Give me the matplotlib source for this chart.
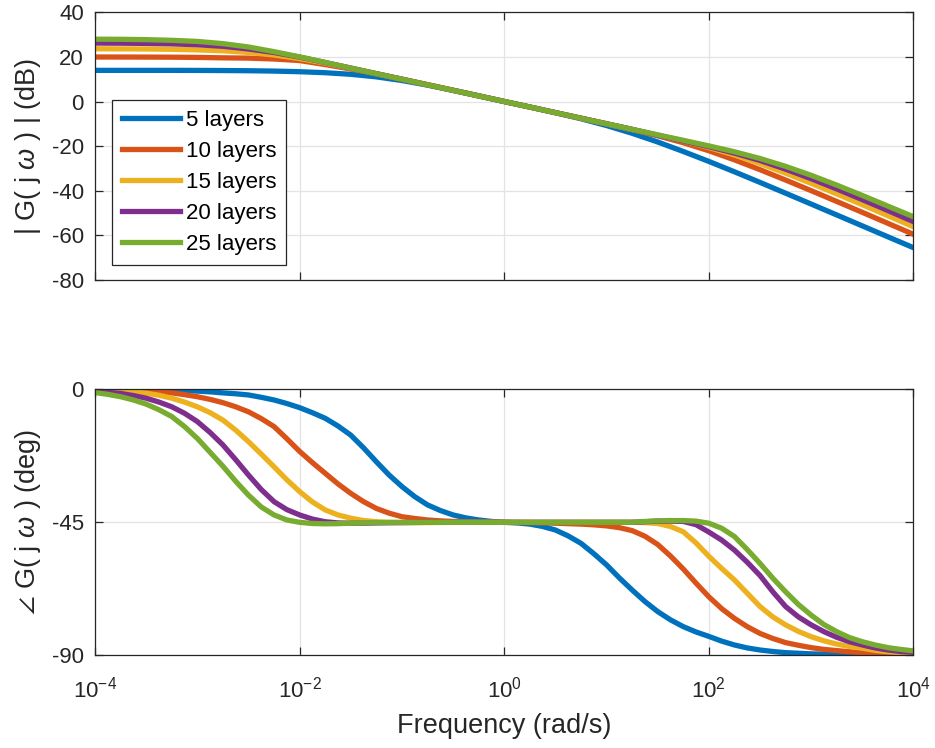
import numpy as np
import matplotlib
matplotlib.use('Agg')
import matplotlib.pyplot as plt

plt.rcParams['font.family'] = ['Liberation Sans', 'DejaVu Sans']
plt.rcParams['mathtext.fontset'] = 'custom'
plt.rcParams['mathtext.rm'] = 'Liberation Sans'
plt.rcParams['mathtext.it'] = 'Liberation Sans:italic'
plt.rcParams['axes.unicode_minus'] = False

labels = ['5 layers', '10 layers', '15 layers', '20 layers', '25 layers']
colors = ['#0072BD', '#D95319', '#EDB120', '#7E2F8E', '#77AC30']

# magnitude: read at quarter decades (log10 of rad/s)
log_w_mag = [-4, -3.75, -3.5, -3.25, -3, -2.75, -2.5, -2.25, -2, -1.75, -1.5, -1.25, -1,
             -0.75, -0.5, -0.25, 0, 0.25, 0.5, 0.75, 1, 1.25, 1.5, 1.75, 2, 2.25, 2.5,
             2.75, 3, 3.25, 3.5, 3.75, 4]

mag5 = [14.0, 14.0, 14.0, 14.0, 13.97, 13.92, 13.83, 13.67, 13.39, 12.94, 12.22, 11.07, 9.43,
        7.37, 5.04, 2.55, 0, -2.48, -5.03, -7.75, -10.80, -14.29, -18.2, -22.46, -26.93,
        -31.59, -36.36, -41.21, -46.09, -50.99, -55.9, -60.81, -65.7]
mag10 = [20.0, 19.98, 19.96, 19.91, 19.81, 19.62, 19.5, 19.1, 18.4, 16.6, 14.6, 12.42, 10.06,
         7.59, 5.08, 2.55, 0, -2.49, -4.98, -7.49, -10.03, -12.62, -15.40, -18.52, -22.14,
         -26.22, -30.64, -35.29, -40.07, -44.92, -49.82, -54.75, -59.7]
mag15 = [23.7, 23.65, 23.6, 23.45, 23.2, 22.8, 22.05, 20.9, 19.3, 17.25, 14.95, 12.5, 10.0,
         7.5, 5.0, 2.5, 0, -2.52, -5.04, -7.55, -10.07, -12.59, -15.12, -17.73, -20.66,
         -24.05, -27.91, -32.2, -36.77, -41.52, -46.38, -51.32, -56.3]
mag20 = [26.25, 26.2, 26.1, 25.9, 25.5, 24.8, 23.6, 22.0, 19.95, 17.53, 15.03, 12.51, 10.0,
         7.5, 5.0, 2.5, 0, -2.5, -5.0, -7.5, -10.0, -12.5, -15.2, -17.7, -20.3,
         -23.2, -26.5, -30.4, -34.7, -39.3, -44.1, -49.0, -54.0]
mag25 = [28.0, 27.95, 27.8, 27.5, 27.0, 26.0, 24.5, 22.4, 20.05, 17.54, 15.01, 12.5, 10.0,
         7.5, 5.0, 2.5, 0, -2.5, -5.0, -7.5, -10.0, -12.5, -14.99, -17.46, -19.95,
         -22.59, -25.61, -29.15, -33.17, -37.57, -42.22, -47.02, -51.8]

# phase: read at eighth decades
log_w_ph = [-4, -3.875, -3.75, -3.625, -3.5, -3.375, -3.25, -3.125,
            -3, -2.875, -2.75, -2.625, -2.5, -2.375, -2.25, -2.125,
            -2, -1.875, -1.75, -1.625, -1.5, -1.375, -1.25, -1.125,
            -1, -0.875, -0.75, -0.625, -0.5, -0.375, -0.25, -0.125,
            0, 0.125, 0.25, 0.375, 0.5, 0.625, 0.75, 0.875,
            1, 1.125, 1.25, 1.375, 1.5, 1.625, 1.75, 1.875,
            2, 2.125, 2.25, 2.375, 2.5, 2.625, 2.75, 2.875,
            3, 3.125, 3.25, 3.375, 3.5, 3.625, 3.75, 3.875,
            4]

ph5 = [0, -0.05, -0.1, -0.15, -0.2, -0.27, -0.35, -0.45,
       -0.6, -0.85, -1.2, -1.5, -1.9, -2.7, -3.6, -4.8,
       -6.2, -7.9, -9.8, -12.4, -15.5, -19.8, -24.5, -29.0,
       -32.9, -36.3, -39.1, -41.0, -42.5, -43.5, -44.2, -44.7,
       -45, -45.2, -45.6, -46.4, -47.6, -49.6, -52.1, -55.6,
       -59.4, -63.8, -67.9, -71.8, -75.2, -78.0, -80.3, -82.1,
       -83.6, -85.2, -86.5, -87.5, -88.2, -88.7, -89.1, -89.3,
       -89.5, -89.6, -89.7, -89.75, -89.8, -89.85, -89.9, -89.95,
       -90]
ph10 = [0, -0.1, -0.2, -0.33, -0.5, -0.8, -1.2, -1.8,
        -2.5, -3.4, -4.5, -5.9, -7.6, -9.9, -12.6, -16.7,
        -21.0, -24.8, -28.4, -32.0, -35.2, -38.0, -40.3, -41.9,
        -43.1, -43.7, -44.2, -44.5, -44.7, -44.8, -44.9, -44.95,
        -45, -45.05, -45.1, -45.2, -45.3, -45.45, -45.6, -45.85,
        -46.2, -46.8, -47.8, -49.7, -52.5, -56.4, -60.8, -65.6,
        -70.2, -74.2, -77.5, -80.3, -82.6, -84.3, -85.7, -86.6,
        -87.4, -88.0, -88.4, -88.8, -89.1, -89.3, -89.5, -89.65,
        -89.8]
ph15 = [-0.2, -0.33, -0.5, -0.85, -1.3, -2.0, -3.0, -4.3,
        -5.9, -7.9, -10.4, -13.8, -17.7, -21.9, -26.2, -30.6,
        -34.6, -38.1, -40.8, -42.5, -43.6, -44.4, -44.8, -45.0,
        -45.1, -45.1, -45.1, -45.05, -45.0, -45.0, -45.0, -45.0,
        -45, -45, -45, -45, -45, -45, -45, -45,
        -45.0, -45.0, -45.0, -45.1, -45.4, -46.4, -48.2, -52.0,
        -56.5, -60.6, -64.5, -69.0, -73.5, -77.0, -79.7, -81.9,
        -83.7, -85.1, -86.2, -87.0, -87.6, -88.3, -88.8, -89.1,
        -89.3]
ph20 = [-0.6, -1.0, -1.4, -2.1, -3.0, -4.3, -5.9, -8.1,
        -10.9, -14.6, -18.8, -23.8, -29.0, -33.9, -38.0, -40.7,
        -42.5, -43.9, -44.8, -45.2, -45.3, -45.3, -45.2, -45.15,
        -45.1, -45.05, -45.0, -45.0, -45.0, -45.0, -45.0, -45.0,
        -45, -45, -45, -45, -45, -45, -45, -45,
        -45.0, -45.0, -45.0, -44.8, -44.6, -44.6, -44.7, -45.8,
        -48.3, -51.0, -54.4, -58.5, -63.0, -68.5, -73.5, -77.0,
        -79.7, -82.0, -83.9, -85.4, -86.5, -87.5, -88.2, -88.7,
        -89.0]
ph25 = [-1.1, -1.7, -2.5, -3.6, -5.0, -6.9, -9.2, -12.6,
        -16.6, -21.3, -26.0, -31.1, -35.8, -39.8, -42.5, -44.2,
        -45.0, -45.4, -45.5, -45.45, -45.3, -45.2, -45.1, -45.05,
        -45.0, -45.0, -45.0, -45.0, -45.0, -45.0, -45.0, -45.0,
        -45, -45, -45, -45, -45, -45, -45, -45,
        -45.0, -45.0, -45.0, -44.7, -44.5, -44.4, -44.4, -44.6,
        -45.3, -47.0, -49.8, -54.2, -58.9, -63.9, -68.5, -72.8,
        -76.4, -79.6, -82.0, -84.0, -85.4, -86.5, -87.4, -88.0,
        -88.5]

mags = [mag5, mag10, mag15, mag20, mag25]
phases = [ph5, ph10, ph15, ph20, ph25]
w_mag = 10.0 ** np.array(log_w_mag)
w_ph = 10.0 ** np.array(log_w_ph)

fig = plt.figure(figsize=(9.35, 7.48), dpi=100)
ax1 = fig.add_axes([0.1016, 0.6263, 0.8754, 0.357])
ax2 = fig.add_axes([0.1016, 0.1239, 0.8754, 0.3556])

for m, p, c, lab in zip(mags, phases, colors, labels):
    ax1.semilogx(w_mag, m, color=c, lw=3.8, label=lab)
    ax2.semilogx(w_ph, p, color=c, lw=3.8)

xt = [1e-4, 1e-2, 1e0, 1e2, 1e4]
for ax in (ax1, ax2):
    ax.set_xlim(1e-4, 1e4)
    ax.set_xticks(xt)
    ax.minorticks_off()
    ax.grid(True, color='#e3e3e3', lw=0.9)
    ax.set_axisbelow(True)
    ax.tick_params(direction='in', top=True, right=True, length=6, width=0.9,
                   colors='#262626', labelsize=16)
    ax.tick_params(axis='y', pad=8)
    ax.tick_params(axis='x', pad=15)
    for s in ax.spines.values():
        s.set_color('#262626')
        s.set_linewidth(0.9)

ax1.set_ylim(-80, 40)
ax1.set_yticks([-80, -60, -40, -20, 0, 20, 40])
ax1.set_xticklabels([])
ax1.set_ylabel(r'| G( j $\omega$ ) | (dB)', fontsize=19.5, color='#262626', va='center')
ax1.yaxis.set_label_coords(-0.082, 0.5)

ax2.set_ylim(-90, 0)
ax2.set_yticks([-90, -45, 0])
ax2.set_ylabel(r'$\angle$ G( j $\omega$ ) (deg)', fontsize=19.5, color='#262626', va='center')
ax2.yaxis.set_label_coords(-0.082, 0.5)
ax2.set_xlabel('Frequency (rad/s)', fontsize=19.5, color='#262626', labelpad=8)

leg = ax1.legend(loc='upper left', bbox_to_anchor=(0.021, 0.672), fontsize=16,
                 fancybox=False, framealpha=1, edgecolor='#262626',
                 handlelength=2.6, handletextpad=0.25, labelspacing=0.45,
                 borderpad=0.45, borderaxespad=0)
leg.get_frame().set_linewidth(0.9)

fig.savefig('out.png', dpi=100)
